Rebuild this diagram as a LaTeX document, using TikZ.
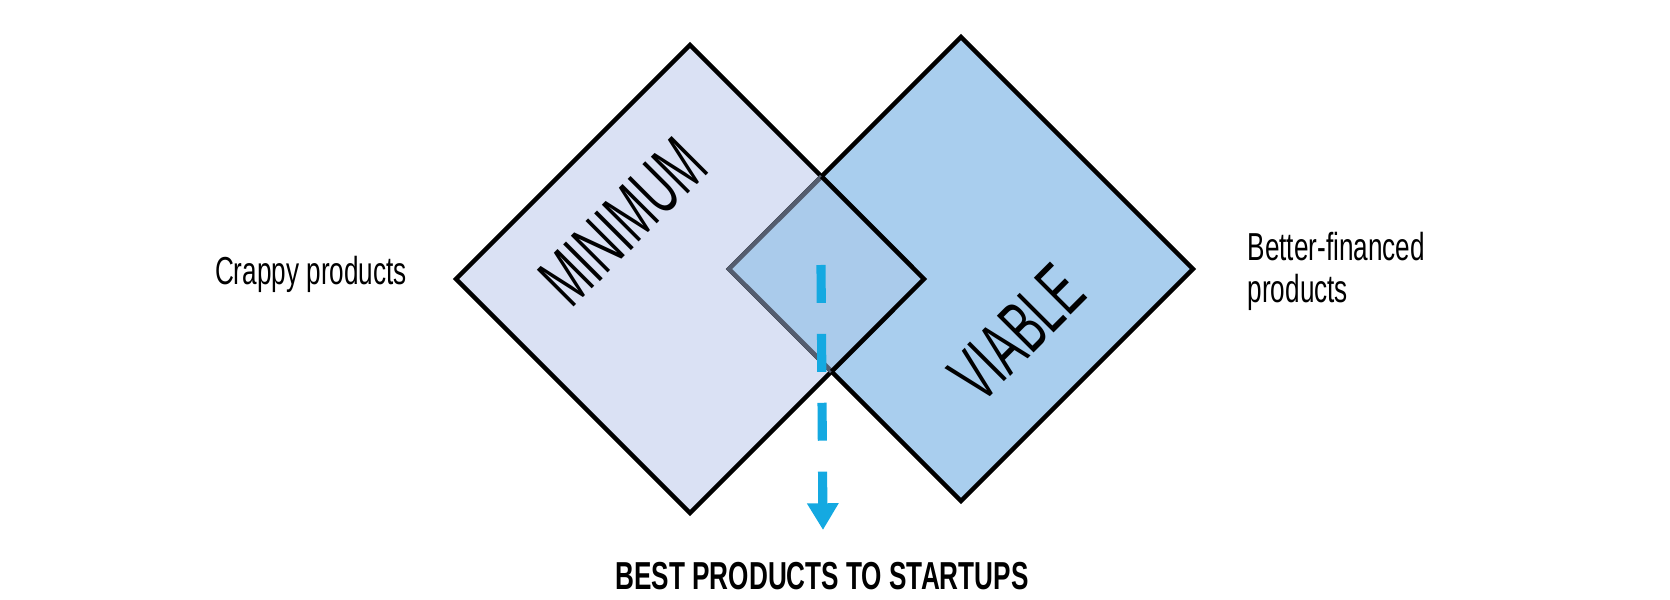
\documentclass[tikz,border=0pt]{standalone}
\usepackage{fontspec}
\newfontfamily\wordfont[FakeStretch=0.58]{Liberation Sans}
\newfontfamily\labelfont[FakeStretch=0.67]{Liberation Sans}
\usetikzlibrary{arrows.meta}
\definecolor{minfill}{HTML}{DAE1F4}
\definecolor{viafill}{HTML}{A9CEEE}
\definecolor{capfill}{HTML}{AACBEB}
\definecolor{capedge}{HTML}{545D6F}
\definecolor{arrowblue}{HTML}{14A9E1}
\begin{document}
\begin{tikzpicture}
\useasboundingbox (0,0) rectangle (16.7,6);
% Corners
\coordinate (minT) at (6.90,5.55);
\coordinate (minL) at (4.56,3.21);
\coordinate (minB) at (6.90,0.87);
\coordinate (minR) at (9.24,3.21);
\coordinate (viaT) at (9.61,5.63);
\coordinate (viaL) at (7.29,3.31);
\coordinate (viaB) at (9.61,0.99);
\coordinate (viaR) at (11.93,3.31);
\coordinate (capT) at (intersection of minT--minR and viaL--viaT);
\coordinate (capB) at (intersection of minB--minR and viaL--viaB);

% Squares
\draw[line width=1.3pt, fill=minfill] (minT)--(minL)--(minB)--(minR)--cycle;
\draw[line width=1.3pt, fill=viafill] (viaT)--(viaL)--(viaB)--(viaR)--cycle;
\fill[capfill] (capT)--(viaL)--(capB)--(minR)--cycle;
\draw[line width=1.3pt, capedge] (capT)--(viaL)--(capB);
\draw[line width=1.3pt] (capT)--(minR)--(capB);

\node[rotate=45, font=\wordfont\fontsize{21.5}{26}\selectfont] (minword) at (6.23,3.78) {MINIMUM};
\node[rotate=45, font=\wordfont\fontsize{21.5}{26}\selectfont] (viaword) at (10.17,2.67) {VIABLE};

% Side labels
\node[anchor=base, font=\labelfont\fontsize{11.1}{13}\selectfont] (crappy) at (3.11,3.15) {Crappy products};
\node[anchor=base west, align=left, inner sep=0pt, font=\labelfont\fontsize{11.1}{12.2}\selectfont] (better) at (12.47,2.97)
  {Better-financed\\ products};

% Arrow
\coordinate (arrStart) at (8.21,3.35);
\coordinate (arrEnd) at (8.23,0.70);
\draw[arrowblue, line width=2.6pt, dash pattern=on 10.8pt off 8.8pt,
  -{Triangle[width=8.5pt,length=7.6pt]}] (arrStart) -- (arrEnd);

\node[anchor=base, font=\labelfont\bfseries\fontsize{11.1}{13}\selectfont] (title) at (8.22,0.10) {BEST PRODUCTS TO STARTUPS};
\end{tikzpicture}
\end{document}
